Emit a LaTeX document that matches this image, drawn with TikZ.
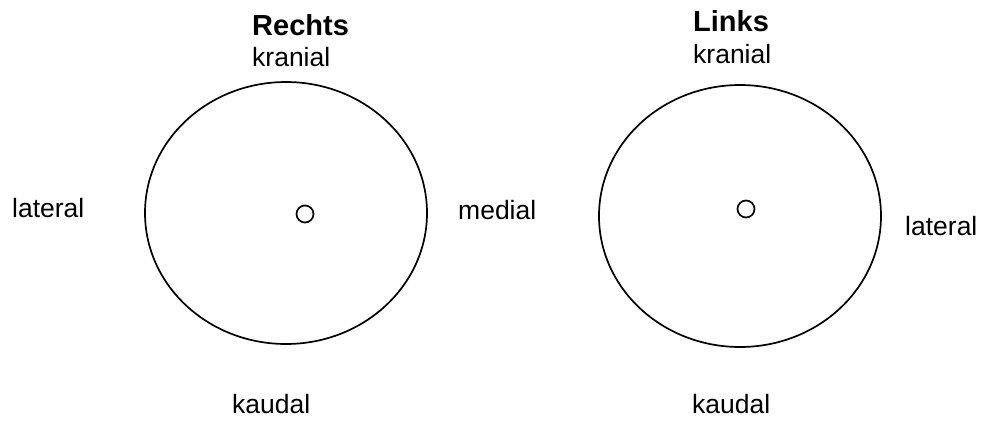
\documentclass[tikz,border=0pt]{standalone}
\usepackage{fontspec}
\setmainfont{Liberation Sans}
\begin{document}
\begin{tikzpicture}[x=1pt,y=-1pt,
  lbl/.style={anchor=base west,inner sep=0pt,font=\fontsize{26.5}{30}\selectfont},
  ttl/.style={anchor=base west,inner sep=0pt,font=\fontsize{29}{34}\selectfont\bfseries},
  ring/.style={draw=black,line width=1.7pt}]
\useasboundingbox (0,0) rectangle (986,421);
% left
\node[ttl] (rechts) at (252,35) {Rechts};
\node[lbl] (kranL) at (252,66) {kranial};
\node[lbl] (latL) at (12,217) {lateral};
\node[lbl] (med) at (458,219) {medial};
\node[lbl] (kauL) at (232,413) {kaudal};
\draw[ring] (286,213) ellipse [x radius=141, y radius=131];
\draw[ring] (305,214) circle [radius=8.5];
% right
\node[ttl] (links) at (693,31) {Links};
\node[lbl] (kranR) at (693,63) {kranial};
\node[lbl] (latR) at (905,235) {lateral};
\node[lbl] (kauR) at (692,413) {kaudal};
\draw[ring] (740,216) ellipse [x radius=141, y radius=131];
\draw[ring] (746,209) circle [radius=8.5];
\end{tikzpicture}
\end{document}
